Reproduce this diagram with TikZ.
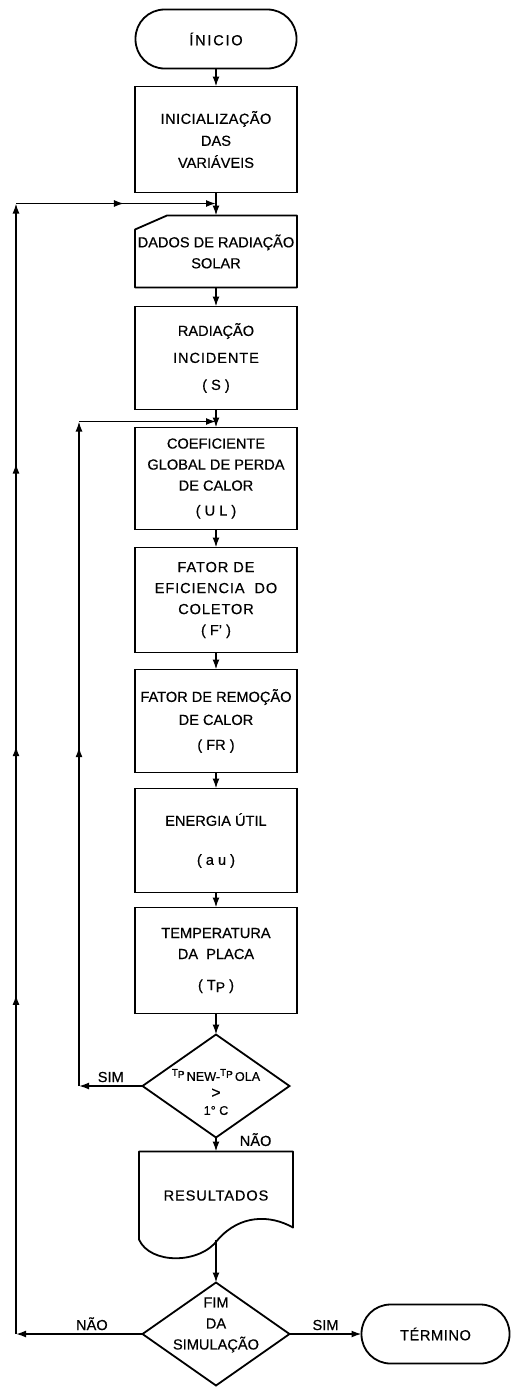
\documentclass[tikz,border=0pt]{standalone}
\usepackage{fontspec}
\setmainfont{Liberation Sans}[FakeBold=0.5]
\usetikzlibrary{shapes.geometric, arrows.meta, positioning, decorations.markings}

\begin{document}
\begin{tikzpicture}[
  node distance    = 9pt,
  font             = \fontsize{7.3}{10.5}\selectfont,
  %--- style definitions ---
  terminal/.style  = {rectangle, rounded corners=14.5pt, draw, line width=0.9pt,
                      minimum width=#1, minimum height=29.5pt, outer sep=0pt, align=center},
  process/.style   = {rectangle, draw, line width=0.9pt, minimum width=81pt,
                      minimum height=#1, inner sep=1pt, outer sep=0pt, align=center},
  inputbox/.style  = {rectangle, minimum width=81pt, minimum height=36pt,
                      inner sep=1pt, outer sep=0pt, align=center},
  docbox/.style    = {rectangle, minimum width=77pt, minimum height=44pt,
                      inner sep=1pt, outer sep=0pt, align=center},
  decision/.style  = {diamond, draw, line width=0.9pt, minimum width=73.5pt,
                      minimum height=51.5pt, inner sep=0pt, outer sep=0pt},
  outline/.style   = {line width=0.9pt, line join=round},
  sublabel/.style  = {inner sep=1.5pt},
  arrow/.style     = {-{Latex[length=5pt,width=3.5pt]}, line width=0.8pt},
  midarrow/.style  = {postaction={decorate}, decoration={markings,
                      mark=at position #1 with {\arrow{Latex[length=5pt,width=3.5pt]}}}},
  longloop/.style  = {postaction={decorate}, decoration={markings,
                      mark=at position 0.30 with {\arrow{Latex[length=5pt,width=3.5pt]}},
                      mark=at position 0.52 with {\arrow{Latex[length=5pt,width=3.5pt]}},
                      mark=at position 0.77 with {\arrow{Latex[length=5pt,width=3.5pt]}}}},
]

\useasboundingbox (0,0) rectangle (256pt,-693.5pt);

%% ── START ──────────────────────────────────────────────────────────────────
\node[terminal=80.5pt] (inicio) at (108pt,-19.5pt) {\addfontfeature{LetterSpace=12}ÍNICIO};

%% ── INITIALISATION AND INPUT ───────────────────────────────────────────────
\node[process=53pt, below=9pt of inicio] (inic)
      {\addfontfeature{LetterSpace=3}INICIALIZAÇÃO \\[0.5pt] DAS \\[0.5pt] VARIÁVEIS};
\node[inputbox, below=11.5pt of inic] (dados)
      {DADOS DE RADIAÇÃO \\ SOLAR};
\draw[outline] (dados.south west) -- ([yshift=-7pt]dados.north west)
      -- ([xshift=16pt]dados.north west) -- (dados.north east)
      -- (dados.south east) -- cycle;

\node[process=51.5pt, below=9.5pt of dados] (rad)
      {RADIAÇÃO \\[3pt] {\addfontfeature{LetterSpace=6}INCIDENTE} \\[3pt] ( S )};

%% ── INNER LOOP : COLLECTOR MODEL ───────────────────────────────────────────
\node[process=51pt, below=9pt of rad] (coef)
      {COEFICIENTE \\ GLOBAL DE PERDA \\ DE CALOR \\[2pt] ( U L )};
\node[process=52.5pt, below=9pt of coef] (efic)
      {\addfontfeature{LetterSpace=6}FATOR DE \\ \addfontfeature{LetterSpace=6}EFICIENCIA~~DO \\ \addfontfeature{LetterSpace=6}COLETOR \\ ( F' )};
\node[process=51.5pt, below=8.5pt of efic] (remoc)
      {FATOR DE REMOÇÃO \\[1pt] DE CALOR \\[2pt] ( FR )};
\node[process=52pt, below=8pt of remoc] (energ)
      {ENERGIA ÚTIL \\[9pt] ( a u )};
\node[process=53pt, below=7.5pt of energ] (temp)
      {TEMPERATURA \\ DA~~PLACA \\[5pt] ( T\raisebox{-1pt}{\scriptsize P} )};
\node[decision, below=10.5pt of temp,
      label={[align=center, yshift=-3pt, font=\fontsize{6.3}{8.5}\selectfont]center:%
        \raisebox{2.5pt}{\tiny T}\raisebox{1.5pt}{\tiny P}\,NEW-\raisebox{2.5pt}{\tiny T}\raisebox{1.5pt}{\tiny P}\,OLA \\ {\fontsize{8}{8}\selectfont >} \\ 1° C}] (tpdec) {};

%% ── OUTPUT AND END TEST ────────────────────────────────────────────────────
\node[docbox, below=7pt of tpdec] (res) {\addfontfeature{LetterSpace=6}RESULTADOS};
\draw[outline] (res.south west) -- (res.north west) -- (res.north east)
      -- ([yshift=6pt]res.south east)
      .. controls ([shift={(27pt,12.5pt)}]res.south) and ([shift={(12pt,12.5pt)}]res.south) .. ([xshift=1pt]res.south)
      .. controls ([shift={(-8pt,-12.5pt)}]res.south) and ([shift={(-33pt,-12.5pt)}]res.south) .. (res.south west);

\node[decision, below=21.5pt of res,
      label={[align=center, yshift=4.5pt]center:FIM \\ DA \\ SIMULAÇÃO}] (fim) {};
\node[terminal=74pt, right=36pt of fim] (term) {\addfontfeature{LetterSpace=4}TÉRMINO};

%% ── LOOP COORDINATES ───────────────────────────────────────────────────────
\coordinate (lx)   at (8pt,0);
\coordinate (ix)   at (39.5pt,0);
\coordinate (jtop) at ([yshift=-5.5pt]inic.south);
\coordinate (jmid) at ([yshift=-6pt]rad.south);
\coordinate (lbot) at (fim.west -| lx);
\coordinate (ltop) at (jtop -| lx);
\coordinate (ibot) at (tpdec.west -| ix);
\coordinate (itop) at (jmid -| ix);

%% ── ARROWS ─────────────────────────────────────────────────────────────────
\draw[arrow] (inicio) -- (inic);
\draw[arrow] (inic.south) -- (dados.north);
\draw[arrow] (dados) -- (rad);
\draw[arrow] (rad) -- (coef);
\draw[arrow] (coef) -- (efic);
\draw[arrow] (efic) -- (remoc);
\draw[arrow] (remoc) -- (energ);
\draw[arrow] (energ) -- (temp);
\draw[arrow] (temp) -- (tpdec);
\draw[arrow] (tpdec) -- node[right=10pt, pos=0.15, sublabel]{NÃO} (res);
\draw[arrow] (res.south) -- (fim);
\draw[arrow] (fim) -- node[above, sublabel]{SIM} (term);

% inner loop back to the collector model
\draw[arrow] (tpdec.west) -- node[above, sublabel]{SIM} (ibot);
\draw[arrow, midarrow=0.51] (ibot) -- (itop);
\draw[arrow] (itop) -- (jmid);

% outer loop back to the radiation data
\draw[arrow] (fim.west) -- node[above, pos=0.4, sublabel]{NÃO} (lbot);
\draw[arrow, longloop] (lbot) -- (ltop);
\draw[arrow, midarrow=0.54] (ltop) -- (jtop);

\end{tikzpicture}
\end{document}
